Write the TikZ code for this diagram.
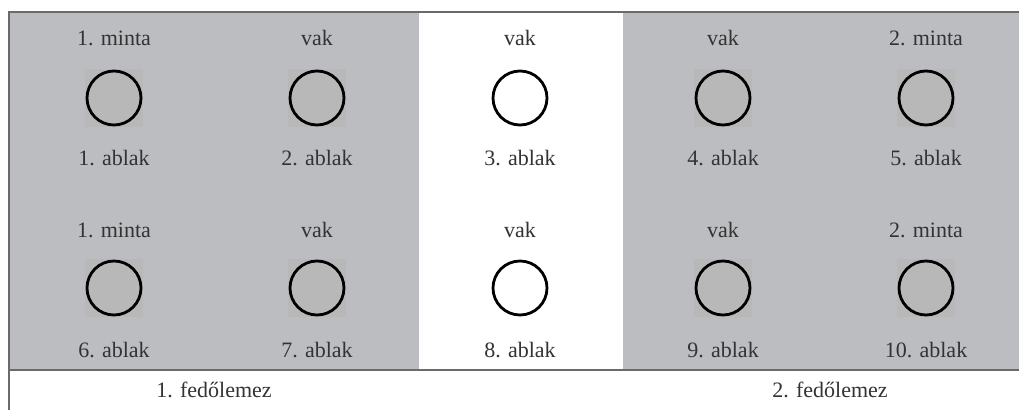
\documentclass[tikz,border=0pt]{standalone}
\usepackage{fontspec}
\setmainfont{Liberation Serif}
\definecolor{bg}{HTML}{BCBDC1}
\definecolor{sq}{HTML}{B8B8B8}
\definecolor{frame}{HTML}{6A6A6A}
\definecolor{txt}{HTML}{333333}
\tikzset{
  lbl/.style={text=txt, font=\fontsize{22}{25}\selectfont, inner sep=0pt, anchor=base},
  sqbox/.style={rectangle, fill=sq, minimum size=58pt, inner sep=0pt},
  win/.style={circle, draw=black, line width=2.8pt, minimum size=54pt, inner sep=0pt},
  wingray/.style={win, fill=sq},
  winwhite/.style={win, fill=white},
  frameline/.style={draw=frame, line width=1.6pt}
}
\begin{document}
\begin{tikzpicture}[x=1pt,y=-1pt]
\useasboundingbox (0,0) rectangle (1019,410);
\fill[white] (0,0) rectangle (1019,410);
\fill[bg] (9,12) rectangle (419,370);
\fill[bg] (623,12) rectangle (1019,370);
\coordinate (tl) at (9,12);
\coordinate (tr) at (1019,12);
\coordinate (bl) at (9,410);
\coordinate (ml) at (9,370);
\coordinate (mr) at (1019,370);
\draw[frameline] (tr) -- (tl) -- (bl);
\draw[frameline] (ml) -- (mr);
% columns
\foreach \i/\x/\top/\bot/\st/\topb/\botb in {
  1/114/1. minta/1. ablak/wingray/1. minta/6. ablak,
  2/317/vak/2. ablak/wingray/vak/7. ablak,
  3/520/vak/3. ablak/winwhite/vak/8. ablak,
  4/723/vak/4. ablak/wingray/vak/9. ablak,
  5/926/2. minta/5. ablak/wingray/2. minta/10. ablak}{
  \node[lbl] (ta\i) at (\x,45) {\top};
  \ifnum\i=3\else\node[sqbox] (sa\i) at (\x,98) {};\fi
  \node[\st] (ca\i) at (\x,98) {};
  \node[lbl] (ba\i) at (\x,165) {\bot};
  \node[lbl] (tb\i) at (\x,237) {\topb};
  \ifnum\i=3\else\node[sqbox] (sb\i) at (\x,288) {};\fi
  \node[\st] (cb\i) at (\x,288) {};
  \node[lbl] (bb\i) at (\x,357) {\botb};
}
\node[lbl] (f1) at (214,397) {1. fedőlemez};
\node[lbl] (f2) at (830,397) {2. fedőlemez};
\end{tikzpicture}
\end{document}
